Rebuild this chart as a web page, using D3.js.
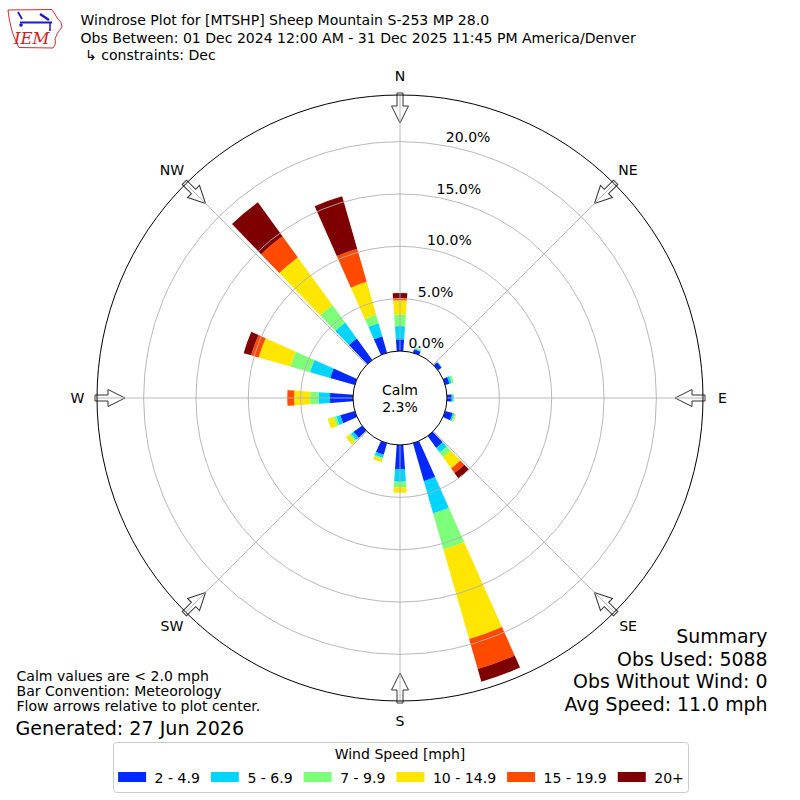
<!DOCTYPE html>
<html>
<head>
<meta charset="utf-8">
<script src="https://cdn.jsdelivr.net/npm/d3@7"></script>
<style>
  html, body { margin: 0; padding: 0; background: #fff; }
  svg { display: block; font-family: "DejaVu Sans", sans-serif; }
</style>
</head>
<body>
<svg id="chart" width="800" height="800"></svg>
<script>
// ---------------- DATA ----------------
const directions = [0, 20, 50, 70, 90, 110, 140, 160, 180, 200, 230, 250, 270, 290, 320, 340];
const speedBins = ["2 - 4.9", "5 - 6.9", "7 - 9.9", "10 - 14.9", "15 - 19.9", "20+"];
// percent of observations per direction, one array per speed bin
const pct_2_5   = [1.12, 0.35, 0.42, 0.44, 0.45, 0.75, 1.40, 3.78, 2.30, 1.15, 1.00, 1.45, 2.20, 2.45, 2.54, 1.65];
const pct_5_7   = [1.27, 0.07, 0.06, 0.21, 0.12, 0.15, 0.55, 3.20, 1.20, 0.30, 0.30, 0.40, 1.10, 2.00, 1.87, 1.30];
const pct_7_10  = [1.08, 0.15, 0.00, 0.20, 0.10, 0.12, 0.53, 3.58, 0.55, 0.15, 0.20, 0.25, 0.80, 1.95, 2.09, 0.80];
const pct_10_15 = [1.38, 0.00, 0.00, 0.00, 0.00, 0.08, 1.33, 8.90, 0.50, 0.30, 0.40, 0.60, 1.53, 3.15, 5.61, 3.30];
const pct_15_20 = [0.22, 0.00, 0.00, 0.00, 0.00, 0.00, 0.55, 2.98, 0.00, 0.00, 0.00, 0.00, 0.65, 0.75, 2.50, 3.30];
const pct_20p   = [0.48, 0.00, 0.00, 0.00, 0.00, 0.00, 0.65, 1.26, 0.00, 0.00, 0.00, 0.00, 0.00, 0.75, 4.00, 5.20];
const ringTicks = [0, 5, 10, 15, 20];
const compassLabels = ["N", "NE", "E", "SE", "S", "SW", "W", "NW"];
const compassAngles = [0, 45, 90, 135, 180, 225, 270, 315];
const calmPct = 2.3;
const titleLines = [
  "Windrose Plot for [MTSHP] Sheep Mountain S-253 MP 28.0",
  "Obs Between: 01 Dec 2024 12:00 AM - 31 Dec 2025 11:45 PM America/Denver",
  " \u21B3 constraints: Dec"
];
const noteLines = ["Calm values are < 2.0 mph", "Bar Convention: Meteorology", "Flow arrows relative to plot center."];
const generatedText = "Generated: 27 Jun 2026";
const summaryLines = ["Summary", "Obs Used: 5088", "Obs Without Wind: 0", "Avg Speed: 11.0 mph"];
const binColors = ["#0028ff", "#00d4ff", "#7dff7a", "#ffe600", "#ff4a00", "#7f0000"];

// ---------------- LAYOUT ----------------
const svg = d3.select("#chart");
const W = 800, H = 800;
const cx = 400, cy = 398;
const rCalm = 47, rOuter = 303;
const pxPerPct = 10.47;
const rMaxPct = (rOuter - rCalm) / pxPerPct;
const r = d3.scaleLinear().domain([0, rMaxPct]).range([rCalm, rOuter]);
const barWidthDeg = 8;
const rad = d => d * Math.PI / 180;
const FS = 14.05;

svg.append("rect").attr("width", W).attr("height", H).attr("fill", "#fff");

const g = svg.append("g").attr("transform", `translate(${cx},${cy})`);

// stacked table
const seriesArrays = [pct_2_5, pct_5_7, pct_7_10, pct_10_15, pct_15_20, pct_20p];
const table = directions.map((d, i) => {
  const row = { dir: d };
  speedBins.forEach((b, j) => row[b] = seriesArrays[j][i]);
  return row;
});
const stacked = d3.stack().keys(speedBins)(table);

const arc = d3.arc();
const barsG = g.append("g");
stacked.forEach((layer, j) => {
  barsG.selectAll(null).data(layer.filter(s => s[1] - s[0] > 0)).enter()
    .append("path")
    .attr("d", s => arc({
      innerRadius: r(s[0]),
      outerRadius: r(s[1]),
      startAngle: rad(s.data.dir - barWidthDeg / 2),
      endAngle: rad(s.data.dir + barWidthDeg / 2)
    }))
    .attr("fill", binColors[j]);
});

// flow arrows (pointing to center)
const arrowG = g.append("g");
const arrowPath = `M -3,${-(rOuter + 2)} L 3,${-(rOuter + 2)} L 3,${-(rOuter - 11)} L 8.5,${-(rOuter - 11)} L 0,${-(rOuter - 28)} L -8.5,${-(rOuter - 11)} L -3,${-(rOuter - 11)} Z`;
compassAngles.forEach(a => {
  arrowG.append("path")
    .attr("d", arrowPath)
    .attr("transform", `rotate(${a})`)
    .attr("fill", "#fff")
    .attr("stroke", "#333")
    .attr("stroke-width", 1)
    .attr("stroke-linejoin", "miter");
});

// grid
const gridG = g.append("g").attr("fill", "none").attr("stroke", "#b0b0b0").attr("stroke-width", 0.9);
ringTicks.filter(t => t > 0).forEach(t => {
  gridG.append("circle").attr("r", r(t));
});
compassAngles.forEach(a => {
  gridG.append("line")
    .attr("x1", 0).attr("y1", 0)
    .attr("x2", rOuter * Math.sin(rad(a)))
    .attr("y2", -rOuter * Math.cos(rad(a)));
});

// outer circle
g.append("circle").attr("r", rOuter).attr("fill", "none").attr("stroke", "#000").attr("stroke-width", 1);

// calm circle
g.append("circle").attr("r", rCalm).attr("fill", "#fff").attr("stroke", "#000").attr("stroke-width", 1);
g.append("text").attr("x", 0).attr("y", -3).attr("text-anchor", "middle")
  .attr("font-size", FS).text("Calm");
g.append("text").attr("x", 0).attr("y", 13.7).attr("text-anchor", "middle")
  .attr("font-size", FS).text(calmPct.toFixed(1) + "%");

// ring labels
const labAng = rad(10.3);
ringTicks.forEach(t => {
  const rr = r(t);
  g.append("text")
    .attr("x", rr * Math.sin(labAng))
    .attr("y", -rr * Math.cos(labAng) - 3.3)
    .attr("font-size", FS)
    .attr("text-anchor", "start")
    .text(t.toFixed(1) + "%");
});

// compass labels
compassLabels.forEach((lab, i) => {
  const a = rad(compassAngles[i]);
  const rr = 322.5;
  g.append("text")
    .attr("x", rr * Math.sin(a))
    .attr("y", -rr * Math.cos(a) + 5)
    .attr("text-anchor", "middle")
    .attr("font-size", FS)
    .text(lab);
});

// ---------------- TITLE ----------------
const titleY = [25, 42.5, 59.5];
titleLines.forEach((t, i) => {
  svg.append("text").attr("x", 80.5).attr("y", titleY[i])
    .attr("font-size", FS).attr("xml:space", "preserve")
    .style("white-space", "pre").text(t);
});

// logo
const logo = svg.append("g");
logo.append("path")
  .attr("d", "M8,10 L52,9.5 Q54,13 56,16 L58,19 Q62,22 62,27 Q59,31 57,34 L55,39 Q57,44 53,48 L19,47.5 Q17,43 15,39 Q12,33 11,27 Q9,20 8,10 Z")
  .attr("fill", "none").attr("stroke", "#d03030").attr("stroke-width", 1);
logo.append("text").attr("x", 14).attr("y", 44).attr("font-family", "DejaVu Serif, Liberation Serif, serif")
  .attr("font-style", "italic").attr("font-size", 16.5).attr("fill", "#d02020").text("IEM");
logo.append("line").attr("x1", 20).attr("y1", 22.5).attr("x2", 52).attr("y2", 22.5).attr("stroke", "#1a1ad0").attr("stroke-width", 2);
logo.append("line").attr("x1", 18).attr("y1", 12).attr("x2", 22).attr("y2", 19).attr("stroke", "#1a1ad0").attr("stroke-width", 1.8);
logo.append("line").attr("x1", 40).attr("y1", 14).attr("x2", 49).attr("y2", 20).attr("stroke", "#1a1ad0").attr("stroke-width", 2.5);
logo.append("line").attr("x1", 50).attr("y1", 22).attr("x2", 50).attr("y2", 31).attr("stroke", "#1a1ad0").attr("stroke-width", 1.5);
logo.append("circle").attr("cx", 21).attr("cy", 25).attr("r", 1.8).attr("fill", "#1a1ad0");

// ---------------- NOTES ----------------
const noteY = [681, 696, 711];
noteLines.forEach((t, i) => {
  svg.append("text").attr("x", 16.5).attr("y", noteY[i]).attr("font-size", FS).text(t);
});
svg.append("text").attr("x", 15.5).attr("y", 735).attr("font-size", 19.1).text(generatedText);

const sumY = [643, 665.5, 688, 711];
summaryLines.forEach((t, i) => {
  svg.append("text").attr("x", 767.5).attr("y", sumY[i]).attr("text-anchor", "end")
    .attr("font-size", 18.9).text(t);
});

// ---------------- LEGEND ----------------
const legG = svg.append("g");
legG.append("rect")
  .attr("x", 113.5).attr("y", 742.5).attr("width", 575).attr("height", 50)
  .attr("rx", 3).attr("fill", "#fff").attr("stroke", "#cccccc").attr("stroke-width", 1);
legG.append("text").attr("x", 400).attr("y", 759).attr("text-anchor", "middle")
  .attr("font-size", FS).text("Wind Speed [mph]");
const patchW = 28, patchH = 10, pad = 8.5, colSp = 11;
const itemsG = legG.append("g");
let xcur = 0;
speedBins.forEach((b, i) => {
  const it = itemsG.append("g");
  it.append("rect").attr("x", xcur).attr("y", 772).attr("width", patchW).attr("height", patchH).attr("fill", binColors[i]);
  const tx = it.append("text").attr("x", xcur + patchW + pad).attr("y", 783).attr("font-size", FS).text(b);
  xcur += patchW + pad + tx.node().getComputedTextLength() + colSp;
});
const totalW = xcur - colSp;
itemsG.attr("transform", `translate(${400 - totalW / 2 + 1},0)`);
</script>
</body>
</html>
